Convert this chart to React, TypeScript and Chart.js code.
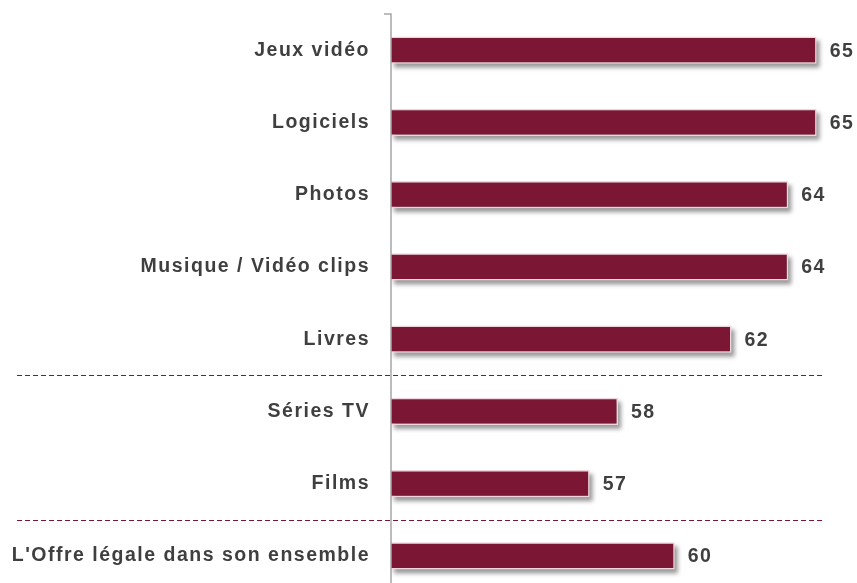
import React, { useEffect, useRef } from "react";
import { Chart, registerables } from "chart.js";

Chart.register(...registerables);

const categories = [
  "Jeux vidéo",
  "Logiciels",
  "Photos",
  "Musique / Vidéo clips",
  "Livres",
  "Séries TV",
  "Films",
  "L'Offre légale dans son ensemble",
];
const values = [65, 65, 64, 64, 62, 58, 57, 60];
const separatorsAfter = [4, 6];
const axisMin = 50;
const axisMax = 66;

const BAR_COLOR = "#7b1734";
const TEXT_COLOR = "#3f3f3f";
const FONT = "'Liberation Sans', Arial, sans-serif";

export default function App() {
  const ref = useRef<HTMLCanvasElement | null>(null);

  useEffect(() => {
    const canvas = ref.current;
    if (!canvas) return;

    const spacingPlugin = {
      id: "spacing",
      beforeDraw(chart: any) {
        chart.ctx.letterSpacing = "1.5px";
      },
      afterDraw(chart: any) {
        chart.ctx.letterSpacing = "0px";
      },
    };

    const shadowPlugin = {
      id: "barShadow",
      beforeDatasetsDraw(chart: any) {
        const ctx = chart.ctx;
        const area = chart.chartArea;
        const meta = chart.getDatasetMeta(0);
        ctx.save();
        ctx.beginPath();
        ctx.rect(area.left, area.top, area.right - area.left + 20, area.bottom - area.top + 20);
        ctx.clip();
        ctx.filter = "blur(2px)";
        ctx.fillStyle = "rgba(0,0,0,0.4)";
        meta.data.forEach((bar: any) => {
          const h = bar.height;
          const start = Math.max(bar.base, area.left);
          ctx.fillRect(start + 3, bar.y - h / 2 + 4, bar.x - start, h);
        });
        ctx.restore();
      },
      afterDatasetsDraw(chart: any) {
        const ctx = chart.ctx;
        const meta = chart.getDatasetMeta(0);
        ctx.save();
        ctx.letterSpacing = "1.5px";
        ctx.font = `bold 19.5px ${FONT}`;
        ctx.fillStyle = TEXT_COLOR;
        ctx.textAlign = "left";
        ctx.textBaseline = "middle";
        meta.data.forEach((bar: any, i: number) => {
          ctx.fillText(String(values[i]), bar.x + 13, bar.y + 1);
        });
        ctx.restore();
      },
    };

    const decoPlugin = {
      id: "deco",
      afterDraw(chart: any) {
        const ctx = chart.ctx;
        const area = chart.chartArea;
        const y = chart.scales.y;
        ctx.save();
        ctx.strokeStyle = "#a6a6a6";
        ctx.lineWidth = 1.5;
        ctx.beginPath();
        ctx.moveTo(area.left - 7, area.top);
        ctx.lineTo(area.left, area.top);
        ctx.lineTo(area.left, area.bottom);
        ctx.stroke();
        ctx.strokeStyle = BAR_COLOR;
        ctx.lineWidth = 1;
        ctx.setLineDash([5, 3]);
        separatorsAfter.forEach((idx) => {
          const py =
            Math.round((y.getPixelForValue(idx) + y.getPixelForValue(idx + 1)) / 2) + 0.5;
          ctx.beginPath();
          ctx.moveTo(17, py);
          ctx.lineTo(area.right - 23, py);
          ctx.stroke();
        });
        ctx.restore();
      },
    };

    const chart = new Chart(canvas, {
      type: "bar",
      data: {
        labels: categories,
        datasets: [
          {
            data: values,
            backgroundColor: BAR_COLOR,
            borderColor: "#efd6dc",
            borderWidth: 1.5,
            borderSkipped: false,
            barPercentage: 0.75,
            categoryPercentage: 0.5,
          },
        ],
      },
      options: {
        indexAxis: "y",
        animation: false,
        responsive: false,
        maintainAspectRatio: false,
        layout: { padding: { top: 14, bottom: 8, right: 12, left: 0 } },
        plugins: {
          legend: { display: false },
          tooltip: { enabled: false },
        },
        scales: {
          x: {
            display: false,
            min: axisMin,
            max: axisMax,
          },
          y: {
            grid: { display: false, drawTicks: false },
            border: { display: false },
            ticks: {
              padding: 21,
              color: TEXT_COLOR,
              font: { family: FONT, size: 19.5, weight: "bold" },
            },
            afterFit(scale: any) {
              scale.width = 391;
              scale.paddingTop = 0;
              scale.paddingBottom = 0;
            },
          },
        },
      },
      plugins: [spacingPlugin, shadowPlugin, decoPlugin],
    });

    return () => chart.destroy();
  }, []);

  return (
    <div
      style={{
        position: "fixed",
        left: 0,
        top: 0,
        width: 857,
        height: 583,
        overflow: "hidden",
        background: "#fff",
      }}
    >
      <canvas ref={ref} width={857} height={600} style={{ width: 857, height: 600, display: "block" }} />
    </div>
  );
}
